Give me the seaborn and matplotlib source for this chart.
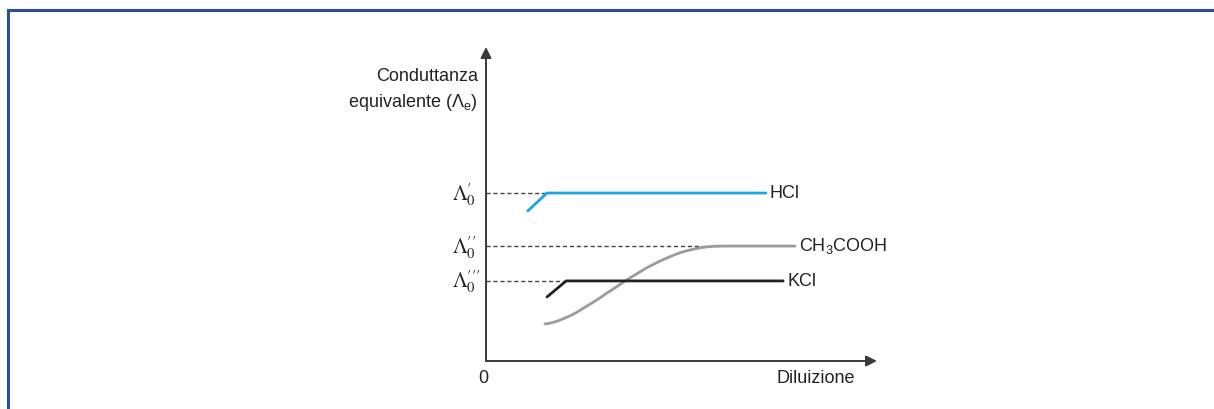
import matplotlib
matplotlib.use("Agg")
import matplotlib.pyplot as plt
from matplotlib.lines import Line2D
import seaborn as sns
import numpy as np

# --- data (arbitrary units, x: diluizione 0-10, y: conduttanza 0-10) ---
hcl_x = [1.07, 1.56, 7.16]
hcl_y = [4.78, 5.35, 5.35]

kcl_x = [1.56, 2.05, 7.60]
kcl_y = [2.04, 2.55, 2.55]

ch3_x = [1.51, 1.62, 1.74, 1.87, 2.00, 2.15, 2.32, 2.50, 2.70, 2.90,
         3.10, 3.30, 3.50, 3.70, 3.90, 4.10, 4.30, 4.50, 4.70, 4.90,
         5.10, 5.30, 5.50, 5.70, 5.90, 6.10, 7.90]
ch3_y = [1.18, 1.20, 1.24, 1.29, 1.36, 1.44, 1.55, 1.69, 1.84, 2.00,
         2.17, 2.33, 2.50, 2.66, 2.81, 2.96, 3.09, 3.21, 3.32, 3.42,
         3.50, 3.56, 3.61, 3.64, 3.66, 3.66, 3.66]

levels = [5.35, 3.66, 2.55]          # limiting conductances
level_ends = [1.56, 6.06, 2.05]      # where the dashed guide stops
level_labels = [r"$\Lambda^{\prime}_{0}$", r"$\Lambda^{\prime\prime}_{0}$",
                r"$\Lambda^{\prime\prime\prime}_{0}$"]

series_names = ["HCl", r"CH$_3$COOH", "KCl"]
series_colors = ["#1ba6e4", "#9b9b9b", "#222222"]

sns.set_style("white")
plt.rcParams["font.family"] = ["Liberation Sans", "DejaVu Sans"]
plt.rcParams["mathtext.fontset"] = "custom"
plt.rcParams["mathtext.rm"] = "Liberation Sans"
plt.rcParams["mathtext.it"] = "Liberation Sans:italic"

W, H = 1214, 410
fig = plt.figure(figsize=(W / 100, H / 100), dpi=100)
fig.patch.set_facecolor("white")

# axes box in pixels: left 486, right 877, bottom 362, top 48
ax = fig.add_axes([486 / W, (H - 362) / H, (877 - 486) / W, (362 - 48) / H])
ax.set_xlim(0, 10)
ax.set_ylim(0, 10)
ax.axis("off")

axis_col = "#3a3a3a"
txt_col = "#222222"
for tip in [(10, 0), (0, 10)]:
    ax.annotate("", xy=tip, xytext=(0, 0),
                arrowprops=dict(arrowstyle="-|>", color=axis_col, lw=1.4,
                                mutation_scale=16, shrinkA=0, shrinkB=0),
                annotation_clip=False)

# dashed guides and Λ labels
for lev, xe, lab in zip(levels, level_ends, level_labels):
    ax.plot([0, xe], [lev, lev], color="#444444", lw=1.0,
            linestyle=(0, (3, 2)), zorder=1)
    ax.text(-0.86, lev - 0.19, lab, ha="left", va="baseline",
            fontsize=15, color=txt_col, math_fontfamily="stix")

# curves
sns.lineplot(x=hcl_x, y=hcl_y, ax=ax, color=series_colors[0], lw=2.0,
             estimator=None, sort=False, zorder=3)
sns.lineplot(x=ch3_x, y=ch3_y, ax=ax, color=series_colors[1], lw=2.0,
             estimator=None, sort=False, zorder=2)
sns.lineplot(x=kcl_x, y=kcl_y, ax=ax, color=series_colors[2], lw=2.0,
             estimator=None, sort=False, zorder=3)

ends = [(hcl_x[-1], hcl_y[-1]), (ch3_x[-1], ch3_y[-1]), (kcl_x[-1], kcl_y[-1])]
for (xe, ye), name in zip(ends, series_names):
    ax.text(xe + 0.1, ye - 0.13, name, ha="left", va="baseline",
            fontsize=13, color=txt_col)

# axis titles
ax.text(-0.20, 8.95, "Conduttanza", ha="right", va="baseline",
        fontsize=13, color=txt_col)
ax.text(-0.20, 8.12, r"equivalente ($\Lambda_{\rm e}$)", ha="right",
        va="baseline", fontsize=13, color=txt_col)
ax.text(-0.08, -0.67, "0", ha="center", va="baseline", fontsize=13,
        color=txt_col)
ax.text(9.44, -0.67, "Diluizione", ha="right", va="baseline", fontsize=13,
        color=txt_col)

# blue frame (left and top edges)
frame_col = "#2b4ea2"
fig.add_artist(Line2D([7.5 / W, 7.5 / W], [0, 1 - 10.5 / H],
                      color=frame_col, lw=2.2, solid_capstyle="projecting"))
fig.add_artist(Line2D([7.5 / W, 1], [1 - 10.5 / H, 1 - 10.5 / H],
                      color=frame_col, lw=2.2, solid_capstyle="projecting"))

fig.savefig("out.png", dpi=100)
